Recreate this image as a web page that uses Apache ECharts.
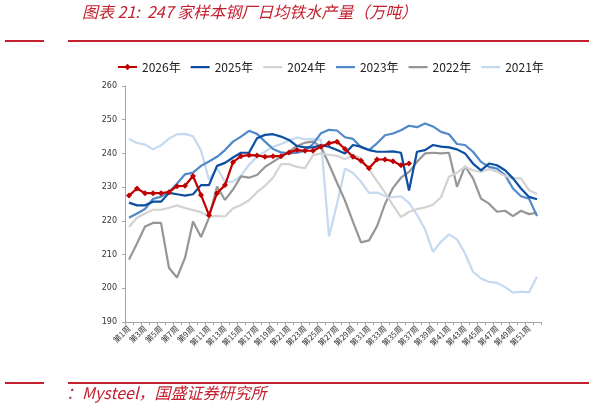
<!DOCTYPE html>
<html>
<head>
<meta charset="utf-8">
<script src="https://cdn.jsdelivr.net/npm/echarts@6/dist/echarts.min.js"></script>
<style>
html,body{margin:0;padding:0;background:#fff;}
#c{width:589px;height:409px;}
</style>
</head>
<body>
<div id="c"></div>
<script>
var weeks = [];
for (var i = 1; i <= 52; i++) weeks.push('第' + i + '周');

var seriesNames = ['2026年', '2025年', '2024年', '2023年', '2022年', '2021年'];

var y2026 = [227.5, 229.6, 228.2, 228.2, 228.2, 228.5, 230.3, 230.4, 233.3, 227.7, 221.7, 228.2, 230.6, 237.4, 239.2, 239.5, 239.4, 239.0, 239.2, 239.2, 240.3, 241.0, 240.8, 240.8, 242.0, 243.0, 243.5, 241.3, 239.0, 237.8, 235.6, 238.2, 238.2, 237.7, 236.5, 237.0];

var y2025 = [225.4, 224.6, 224.6, 225.7, 225.7, 228.3, 227.9, 227.5, 227.9, 230.6, 230.6, 236.3, 237.2, 238.8, 240.2, 240.2, 244.5, 245.5, 245.7, 245.0, 244.0, 242.2, 241.8, 241.8, 242.4, 242.0, 241.0, 240.0, 242.5, 242.0, 241.0, 240.5, 240.5, 240.6, 240.2, 229.0, 240.5, 241.0, 242.5, 242.0, 241.8, 241.2, 240.0, 237.0, 235.0, 237.0, 236.5, 235.0, 232.6, 229.6, 227.1, 226.4];

var y2024 = [218.2, 220.9, 222.2, 223.3, 223.3, 223.9, 224.6, 223.8, 223.2, 222.6, 221.2, 221.5, 221.3, 223.7, 224.7, 226.1, 228.5, 230.4, 232.8, 236.8, 236.8, 236.0, 235.6, 239.5, 240.0, 239.6, 239.3, 238.3, 239.6, 238.6, 235.3, 231.8, 228.4, 224.6, 221.1, 222.7, 223.5, 224.0, 224.8, 227.0, 233.1, 234.3, 236.0, 235.0, 234.5, 235.4, 234.6, 233.3, 232.6, 232.6, 229.1, 228.0];

var y2023 = [220.9, 222.2, 223.5, 226.5, 227.2, 228.6, 231.0, 233.8, 234.3, 236.3, 237.6, 239.0, 241.0, 243.5, 245.0, 246.7, 245.8, 243.5, 241.3, 240.3, 240.0, 240.2, 240.8, 242.8, 246.0, 247.0, 246.8, 244.8, 244.3, 241.8, 241.0, 243.0, 245.4, 245.9, 246.9, 248.2, 247.8, 248.9, 248.0, 246.4, 245.7, 242.8, 242.5, 240.5, 237.5, 236.0, 235.5, 233.6, 229.6, 227.3, 226.6, 221.4];

var y2022 = [208.5, 213.3, 218.3, 219.4, 219.4, 206.0, 203.2, 209.0, 219.8, 215.2, 220.9, 230.2, 226.2, 229.3, 233.2, 232.8, 233.6, 236.0, 237.5, 239.0, 240.5, 242.2, 243.2, 243.5, 242.0, 236.8, 231.3, 226.0, 219.7, 213.6, 214.2, 218.4, 225.0, 229.8, 232.8, 234.5, 237.5, 240.0, 240.2, 240.0, 240.2, 230.1, 236.2, 232.6, 226.6, 225.1, 222.7, 223.0, 221.4, 223.0, 222.0, 222.4];

var y2021 = [244.3, 243.1, 242.6, 241.2, 242.4, 244.4, 245.7, 245.8, 245.1, 240.9, 232.2, 235.6, 231.6, 231.6, 233.4, 236.6, 239.0, 240.5, 242.0, 242.8, 243.8, 244.7, 244.2, 244.3, 244.0, 215.4, 225.0, 235.5, 234.2, 231.6, 228.3, 228.4, 227.4, 227.0, 227.3, 225.3, 221.8, 217.5, 210.8, 213.8, 216.0, 214.5, 210.3, 204.9, 202.9, 201.9, 201.6, 200.4, 198.7, 199.0, 198.8, 203.4];

var yTicks = [190, 200, 210, 220, 230, 240, 250, 260];

var titleText = '图表 21:  247 家样本钢厂日均铁水产量（万吨）';
var sourceText = '：Mysteel，国盛证券研究所';

var colors = ['#c00000', '#0b4ea2', '#d3d3d3', '#5088c8', '#969696', '#c5d9f1'];
var dataList = [y2026, y2025, y2024, y2023, y2022, y2021];

var lineIcon = 'path://M0,0h0.01v0.01h-0.01Z M0,3H19V5.2H0Z M0,7.99h0.01v0.01h-0.01Z';

var series = seriesNames.map(function (n, k) {
  var s = {
    name: n,
    type: 'line',
    data: dataList[k],
    z: 10 - k,
    lineStyle: { color: colors[k], width: 2.2 },
    itemStyle: { color: colors[k] },
    symbol: 'none',
    animation: false
  };
  if (k === 0) {
    s.symbol = 'diamond';
    s.symbolSize = 6;
    s.showAllSymbol = true;
    s.z = 20;
  }
  return s;
});

var legendData = seriesNames.map(function (n, k) {
  return k === 0 ? { name: n } : { name: n, icon: lineIcon };
});

var chart = echarts.init(document.getElementById('c'), null, { renderer: 'canvas' });
var red = '#c3202f';
chart.setOption({
  backgroundColor: '#fff',
  animation: false,
  graphic: [
    { type: 'text', left: 82, top: 4, style: { text: titleText, fill: red, font: 'italic 16px "Noto Sans CJK SC"' } },
    { type: 'rect', shape: { x: 5, y: 40, width: 39, height: 2 }, style: { fill: red } },
    { type: 'rect', shape: { x: 68, y: 40, width: 521, height: 2 }, style: { fill: red } },
    { type: 'rect', shape: { x: 5, y: 382, width: 39, height: 2 }, style: { fill: red } },
    { type: 'rect', shape: { x: 68, y: 382, width: 521, height: 2 }, style: { fill: red } },
    { type: 'text', left: 66, top: 385, style: { text: sourceText, fill: red, font: 'italic 16px "Noto Sans CJK SC"' } }
  ],
  legend: {
    data: legendData,
    top: 56,
    left: 112,
    itemWidth: 19,
    itemHeight: 8,
    itemGap: 10,
    textStyle: { fontSize: 12, color: '#222', fontFamily: 'Noto Sans CJK SC' }
  },
  grid: { left: 125, right: 48, top: 86, bottom: 87, containLabel: false },
  xAxis: {
    type: 'category',
    data: weeks,
    boundaryGap: true,
    axisLine: { lineStyle: { color: '#a6a6a6', width: 1 } },
    axisTick: { show: true, length: 3, interval: 0, lineStyle: { color: '#a6a6a6' } },
    axisLabel: { interval: 1, rotate: 45, fontSize: 8, color: '#333', margin: 5, fontFamily: 'Noto Sans CJK SC' },
    splitLine: { show: false }
  },
  yAxis: {
    type: 'value',
    min: 190,
    max: 260,
    interval: 10,
    axisLine: { show: true, lineStyle: { color: '#a6a6a6', width: 1 } },
    axisTick: { show: true, length: 3, lineStyle: { color: '#a6a6a6' } },
    axisLabel: { fontSize: 8, color: '#333', margin: 8, fontFamily: 'DejaVu Sans' },
    splitLine: { show: false }
  },
  series: series
});
</script>
</body>
</html>
